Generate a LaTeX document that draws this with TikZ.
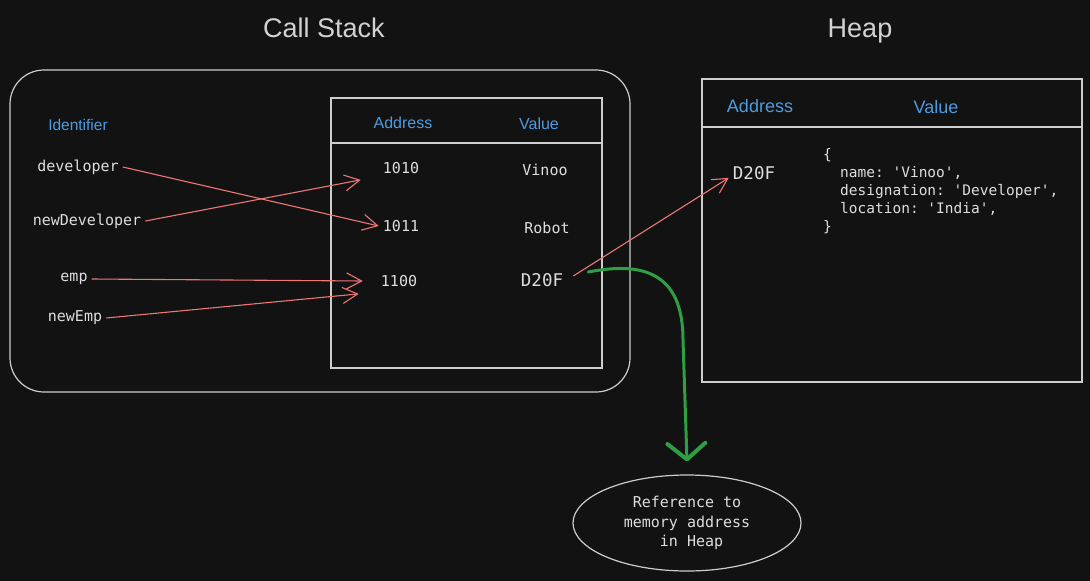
\documentclass[tikz,border=0pt]{standalone}
\usepackage{fontspec}
\setmainfont{Liberation Sans}
\setmonofont{DejaVu Sans Mono}
\usetikzlibrary{arrows.meta,shapes.geometric,calc}
\definecolor{bg}{RGB}{18,18,18}
\definecolor{lineC}{RGB}{205,205,205}
\definecolor{txtC}{RGB}{222,222,222}
\definecolor{titleC}{RGB}{210,210,210}
\definecolor{blueC}{RGB}{77,155,224}
\definecolor{redC}{RGB}{238,118,118}
\definecolor{greenC}{RGB}{47,158,68}
\tikzset{
  frame/.style={draw=lineC, line width=1.2pt},
  title/.style={text=titleC, font=\fontsize{27}{30}\selectfont, inner sep=0pt, anchor=base},
  head/.style={text=blueC, inner sep=0pt},
  ident/.style={text=txtC, font=\ttfamily\fontsize{15}{17}\selectfont, inner sep=4pt},
  cell/.style={text=txtC, font=\ttfamily\fontsize{15}{17}\selectfont, inner sep=4pt},
  bigcell/.style={text=txtC, font=\ttfamily\fontsize{17.5}{20}\selectfont, inner sep=4pt},
  redarr/.style={draw=redC, line width=1.1pt, -{Straight Barb[length=15pt,width=16pt,line width=1.1pt]}},
  greenarr/.style={draw=greenC, line width=3pt, line cap=round, -{Straight Barb[length=16pt,width=38pt,line width=4pt,round]}},
}
\begin{document}
\begin{tikzpicture}[x=1pt,y=-1pt]
\fill[bg] (0,0) rectangle (1090,581);
\useasboundingbox (0,0) rectangle (1090,581);

% titles
\node[title] (tstack) at (324,37) {Call Stack};
\node[title] (theap) at (860,37) {Heap};

% call stack frame
\draw[frame, rounded corners=34pt] (10,70) rectangle (630,392);
\draw[frame] (331,98) rectangle (602,368);
\draw[frame] (331,143) -- (602,143);

\node[head, font=\fontsize{15.5}{17}\selectfont] (hid) at (78,125) {Identifier};
\node[head, font=\fontsize{16}{18}\selectfont] (haddr) at (403,123) {Address};
\node[head, font=\fontsize{16}{18}\selectfont] (hval) at (539,124) {Value};

\node[ident] (developer) at (78,167) {developer};
\node[ident] (newDeveloper) at (87,221) {newDeveloper};
\node[ident] (emp) at (74,279) {emp};
\node[ident] (newEmp) at (75,318) {newEmp};

\node[cell] (a1010) at (401,168) {1010};
\node[cell] (a1011) at (401,226) {1011};
\node[cell] (a1100) at (399,281) {1100};
\node[cell] (vVinoo) at (545,170) {Vinoo};
\node[cell] (vRobot) at (547,228) {Robot};
\node[bigcell] (vD20F) at (542,280) {D20F};

% heap frame
\draw[frame] (702,79) rectangle (1082,382);
\draw[frame] (702,127) -- (1082,127);
\node[head, font=\fontsize{18}{20}\selectfont] (hhaddr) at (760,106) {Address};
\node[head, font=\fontsize{18}{20}\selectfont] (hhval) at (936,107) {Value};
\node[bigcell] (hD20F) at (754,173) {D20F};
\node[text=txtC, font=\ttfamily\fontsize{14.5}{18}\selectfont, align=left, anchor=north west, inner sep=0pt] (obj) at (823,148)
  {\{\\\hspace*{17pt}name: 'Vinoo',\\\hspace*{17pt}designation: 'Developer',\\\hspace*{17pt}location: 'India',\\\}};

% red arrows
\draw[redarr] (developer.east) -- (a1011.west);
\draw[redarr] (newDeveloper.east) -- ([xshift=-18pt,yshift=-2pt]a1010.south west);
\draw[redarr] (emp.east) -- ([xshift=-14pt]a1100.west);
\draw[redarr] (newEmp.east) -- ([xshift=-18pt,yshift=-3pt]a1100.south west);
\draw[redarr] ([xshift=6pt,yshift=4pt]vD20F.east) -- ([yshift=6pt]hD20F.south west);

% reference ellipse
\node[ellipse, draw=lineC, line width=1.2pt, minimum width=228pt, minimum height=96pt,
  text=txtC, font=\ttfamily\fontsize{15}{19.5}\selectfont, align=center] (ref) at (687,523)
  {Reference to\\memory address\\\ in Heap};

% green arrow
\draw[greenarr] ([xshift=21pt,yshift=8pt]vD20F.east) .. controls (640,262) and (683,270) .. (683,340) -- ([yshift=13pt]ref.north);
\end{tikzpicture}
\end{document}
